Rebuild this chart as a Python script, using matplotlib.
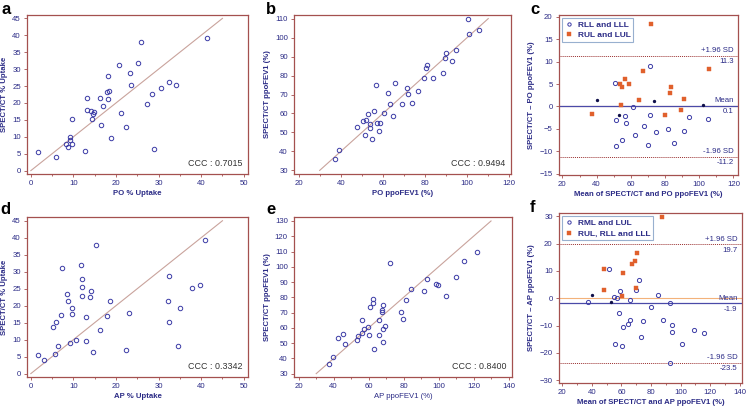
import matplotlib
matplotlib.use("Agg")
import matplotlib.pyplot as plt
import matplotlib.transforms as mtransforms
from matplotlib.ticker import MultipleLocator

plt.rcParams['font.family'] = ['Liberation Sans', 'DejaVu Sans']

# ---- data ----
# a: PO % uptake vs SPECT/CT % uptake
a_x = [1.6, 5.9, 8.3, 8.7, 9.2, 9.3, 9.6, 9.6, 12.8, 13.1, 13.1, 14.2, 14.4, 14.5,
       14.8, 16.3, 16.5, 16.9, 18.0, 18.2, 18.3, 18.2, 18.8, 20.7, 21.1, 22.3, 23.3,
       23.5, 25.1, 25.9, 27.3, 28.5, 28.9, 30.5, 32.5, 34.0, 41.3]
a_y = [5.4, 4.0, 8.0, 7.0, 9.9, 9.1, 8.0, 15.2, 5.7, 21.6, 18.0, 17.7, 15.2, 16.7,
       17.4, 21.6, 13.6, 19.2, 23.1, 28.0, 23.6, 21.2, 9.7, 31.2, 16.9, 13.0, 29.0,
       25.4, 31.9, 38.0, 19.6, 22.7, 6.4, 24.3, 26.2, 25.2, 39.3]
a_line = [0, 45]
a_ccc = "0.7015"

# b: PO ppoFEV1 vs SPECT/CT ppoFEV1
b_x = [37.1, 39.0, 47.6, 50.7, 51.7, 52.0, 53.1, 53.8, 54.1, 54.7, 55.8, 56.5, 57.1,
       58.2, 58.4, 60.4, 62.3, 63.6, 64.7, 65.9, 69.0, 71.5, 71.8, 73.7, 76.6, 79.7,
       80.5, 80.7, 83.6, 88.3, 89.3, 89.9, 92.6, 94.5, 100.5, 101.1, 105.4]
b_y = [35.9, 40.5, 53.1, 56.2, 48.9, 56.6, 59.6, 52.2, 54.7, 46.8, 61.5, 75.0, 55.0,
       50.8, 55.0, 60.3, 70.8, 65.0, 58.9, 75.8, 65.2, 73.6, 70.4, 65.5, 72.0, 78.8,
       83.9, 85.7, 78.7, 81.5, 89.2, 91.8, 87.9, 93.4, 109.8, 102.1, 103.9]
b_line = [30, 110]
b_ccc = "0.9494"

# c: Bland-Altman SPECT/CT vs PO
c_lower_x = [50.6, 61.0, 56.5, 51.2, 57.4, 71.5, 67.6, 62.3, 74.8, 81.6, 91.0, 54.9,
             51.2, 69.9, 85.3, 93.9, 71.3, 105.0]
c_lower_y = [5.2, -0.2, -2.2, -3.0, -3.7, -2.0, -4.3, -6.3, -5.6, -5.1, -5.4, -7.6,
             -8.9, -8.7, -8.1, -2.3, 9.1, -2.8]
c_upper_x = [37.2, 54.5, 53.9, 54.7, 56.8, 59.2, 64.8, 67.0, 79.8, 82.8, 83.4, 89.6,
             91.3, 105.6, 71.9]
c_upper_y = [-1.6, 0.3, 5.0, 4.4, 6.1, 5.1, 1.4, 7.8, -2.0, 3.1, 4.4, -0.7, 1.7, 8.4,
             18.3]
c_other_x = [40.5, 73.4, 53.3, 102.3]
c_other_y = [1.5, 1.25, -1.9, 0.3]
c_mean, c_hi, c_lo = 0.1, 11.3, -11.2
c_legend = ["RLL and LLL", "RUL and LUL"]

# d: AP % uptake vs SPECT/CT % uptake
d_x = [1.7, 3.1, 5.1, 5.7, 5.9, 6.3, 7.2, 7.3, 8.4, 8.8, 9.3, 9.6, 9.6, 10.6, 11.8,
       12.0, 12.0, 12.0, 13.0, 13.0, 13.8, 14.1, 14.6, 15.3, 16.2, 17.8, 18.6, 22.4,
       23.0, 32.1, 32.5, 32.4, 34.6, 35.1, 37.8, 39.8, 40.9]
d_y = [5.4, 4.0, 13.6, 5.7, 15.1, 8.0, 17.3, 31.2, 23.4, 21.5, 8.9, 19.2, 17.6, 10.0,
       31.9, 27.8, 25.4, 22.9, 16.7, 9.5, 22.6, 24.2, 6.4, 37.9, 12.9, 16.9, 21.3, 7.0,
       17.9, 21.5, 28.8, 15.1, 8.0, 19.4, 25.1, 26.1, 39.2]
d_line = [0, 45]
d_ccc = "0.3342"

# e: AP ppoFEV1 vs SPECT/CT ppoFEV1
e_x = [37.2, 39.7, 42.6, 45.4, 46.2, 53.5, 54.0, 56.1, 56.1, 57.3, 59.4, 60.2, 60.9,
       62.3, 62.3, 63.2, 65.9, 65.9, 67.5, 67.8, 68.0, 68.2, 68.2, 69.3, 72.2, 78.3,
       79.5, 81.2, 84.1, 91.7, 93.4, 98.8, 99.7, 104.5, 109.7, 114.8, 122.1]
e_y = [36.1, 40.9, 53.4, 56.2, 49.4, 52.3, 54.5, 65.4, 56.6, 59.5, 60.6, 55.3, 73.7,
       78.9, 76.3, 46.2, 65.2, 55.3, 70.6, 71.7, 74.8, 59.0, 51.0, 61.0, 102.3, 70.4,
       65.6, 78.3, 85.7, 84.1, 92.0, 89.0, 87.9, 81.1, 93.1, 103.6, 109.7]
e_line = [30, 130]
e_ccc = "0.8400"

# f: Bland-Altman SPECT/CT vs AP
f_lower_x = [51.3, 37.1, 58.7, 54.7, 56.7, 65.9, 69.5, 71.8, 84.9, 92.8, 79.9, 58.1,
             65.5, 64.1, 61.0, 74.5, 88.0, 93.9, 93.9, 72.9, 55.4, 60.1, 101.3, 109.2,
             93.0, 115.7]
f_lower_y = [10.7, -1.3, 2.5, 0.4, 0.2, -0.5, 2.9, 6.7, 1.1, -1.6, -3.1, -5.4, -8.0,
             -9.4, -10.5, -8.3, -7.9, -9.7, -12.2, -14.2, -16.8, -17.4, -16.6, -11.7,
             -23.6, -12.6]
f_upper_x = [48.2, 47.9, 61.0, 60.1, 67.3, 69.1, 69.8, 70.7, 87.3]
f_upper_y = [10.7, 3.2, 9.1, 0.7, 12.6, 13.5, 3.9, 16.4, 29.9]
f_other_x = [40.3, 53.1]
f_other_y = [1.2, -1.5]
f_mean, f_hi, f_lo = -1.9, 19.7, -23.5
f_legend = ["RML and LUL", "RUL, RLL and LLL"]

# ---- style ----
FRAME = "#a4504f"
NAVY = "#2b2b86"
CIRC = "#3c3ca6"
SQ = "#e0602c"
IDLINE = "#c9a39c"
FS = 5.6

W, H = 746, 407
fig = plt.figure(figsize=(W / 100, H / 100), dpi=100)


def add_ax(l, r, t, b):
    return fig.add_axes([l / W, 1 - b / H, (r - l) / W, (b - t) / H])


def style(ax, xlim, ylim, xmaj, ymaj, xlabel, ylabel, xbold=True):
    ax.set_xlim(*xlim)
    ax.set_ylim(*ylim)
    ax.xaxis.set_major_locator(MultipleLocator(xmaj))
    ax.yaxis.set_major_locator(MultipleLocator(ymaj))
    ax.xaxis.set_minor_locator(MultipleLocator(xmaj / 2))
    for s in ax.spines.values():
        s.set_color(FRAME)
        s.set_linewidth(0.9)
    ax.tick_params(which='both', direction='out', colors=FRAME, labelcolor=NAVY,
                   labelsize=FS, width=0.6, pad=2)
    ax.tick_params(which='major', length=2.5)
    ax.tick_params(which='minor', length=1.5)
    ax.tick_params(axis='y', which='minor', left=False)
    ax.set_xlabel(xlabel, fontsize=FS, color=NAVY,
                  fontweight='bold' if xbold else 'normal', labelpad=2)
    ax.set_ylabel(ylabel, fontsize=FS, color=NAVY, fontweight='bold', labelpad=3)


def scatter_panel(ax, x, y, line, ccc):
    ax.plot(line, line, color=IDLINE, lw=0.8, zorder=1)
    ax.plot(x, y, 'o', ms=3.2, mfc='none', mec=CIRC, mew=0.7, zorder=3)
    ax.text(0.975, 0.035, "CCC : " + ccc, transform=ax.transAxes, ha='right',
            va='bottom', fontsize=6.4, color='#333333')


def ba_panel(ax, lx, ly, ux, uy, ox, oy, mean, hi, lo, names):
    tr = mtransforms.blended_transform_factory(ax.transAxes, ax.transData)
    ax.axhline(0, color='#f3b27a', lw=0.8, zorder=1)
    ax.axhline(mean, color='#4a4aa8', lw=0.9, zorder=1)
    ax.axhline(hi, color='#9a3030', lw=0.7, ls=(0, (1, 1)), zorder=1)
    ax.axhline(lo, color='#9a3030', lw=0.7, ls=(0, (1, 1)), zorder=1)
    ax.plot(lx, ly, 'o', ms=3.0, mfc='none', mec=CIRC, mew=0.7, zorder=3,
            label=names[0])
    ax.plot(ux, uy, 's', ms=3.2, mfc=SQ, mec=SQ, mew=0.3, zorder=3, label=names[1])
    ax.plot(ox, oy, 'o', ms=1.4, color='#10104a', zorder=4)
    for val, top in [(hi, "+1.96 SD"), (mean, "Mean"), (lo, "-1.96 SD")]:
        ax.annotate(top, xy=(0.975, val), xycoords=tr, xytext=(0, 1.2),
                    textcoords='offset points', ha='right', va='bottom',
                    fontsize=FS, color=NAVY)
        ax.annotate("%.1f" % val, xy=(0.975, val), xycoords=tr, xytext=(0, -1.5),
                    textcoords='offset points', ha='right', va='top',
                    fontsize=FS, color=NAVY)
    leg = ax.legend(loc='upper left', fontsize=FS + 0.4, frameon=True, fancybox=False,
                    edgecolor='#7f9cc4', borderpad=0.35, handlelength=1.0,
                    handletextpad=0.5, labelspacing=0.3, borderaxespad=0.4,
                    markerscale=0.8)
    leg.get_frame().set_linewidth(0.8)
    for t in leg.get_texts():
        t.set_color(NAVY)
        t.set_fontweight('bold')


# panel a
ax = add_ax(27, 248, 15, 174)
scatter_panel(ax, a_x, a_y, a_line, a_ccc)
style(ax, (-0.9, 51), (-1, 46), 10, 5, "PO % Uptake", "SPECT/CT % Uptake")

# panel b
ax = add_ax(294, 511, 15, 174)
scatter_panel(ax, b_x, b_y, b_line, b_ccc)
style(ax, (17.8, 120.8), (28.1, 111.9), 20, 10, "PO ppoFEV1 (%)",
      "SPECT/CT ppoFEV1 (%)")

# panel c
ax = add_ax(559, 738, 15, 175)
ba_panel(ax, c_lower_x, c_lower_y, c_upper_x, c_upper_y, c_other_x, c_other_y,
         c_mean, c_hi, c_lo, c_legend)
style(ax, (18, 122.7), (-15.3, 20.4), 20, 5,
      "Mean of SPECT/CT and PO ppoFEV1 (%)", "SPECT/CT \u2013 PO ppoFEV1 (%)")

# panel d
ax = add_ax(27, 248, 217, 377)
scatter_panel(ax, d_x, d_y, d_line, d_ccc)
style(ax, (-0.9, 51), (-1, 46.1), 10, 5, "AP % Uptake", "SPECT/CT % Uptake")

# panel e
ax = add_ax(294, 512, 217, 377)
scatter_panel(ax, e_x, e_y, e_line, e_ccc)
style(ax, (17.3, 142), (27.8, 132.6), 20, 10, "AP ppoFEV1 (%)",
      "SPECT/CT ppoFEV1 (%)", xbold=False)

# panel f
ax = add_ax(559, 742, 213, 383)
ba_panel(ax, f_lower_x, f_lower_y, f_upper_x, f_upper_y, f_other_x, f_other_y,
         f_mean, f_hi, f_lo, f_legend)
style(ax, (17.7, 141.6), (-31, 31.2), 20, 10,
      "Mean of SPECT/CT and AP ppoFEV1 (%)", "SPECT/CT \u2013 AP ppoFEV1 (%)")

# panel letters
for letter, px, py in [("a", 1, 14), ("b", 266, 14), ("c", 530, 14),
                       ("d", 0, 214), ("e", 266, 214), ("f", 530, 212)]:
    fig.text(px / W, 1 - py / H, letter, fontsize=12, fontweight='bold',
             ha='left', va='baseline')

fig.savefig("out.png", dpi=100)
